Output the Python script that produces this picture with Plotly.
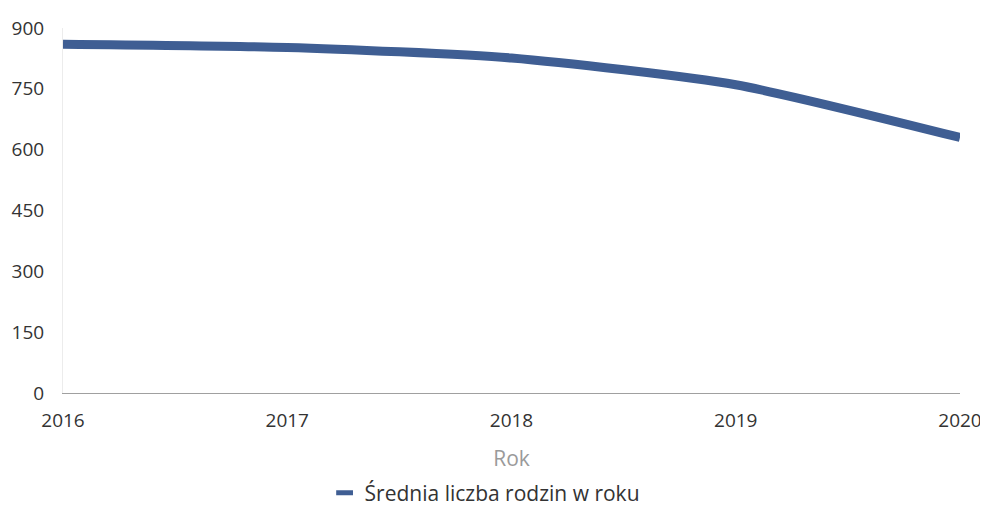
import plotly.graph_objects as go

years = [2016, 2017, 2018, 2019, 2020]
values = [860, 852, 826, 760, 630]
series_name = "Średnia liczba rodzin w roku"
y_ticks = [0, 150, 300, 450, 600, 750, 900]

line_color = "#3f5e93"

fig = go.Figure()
fig.add_trace(go.Scatter(
    x=years, y=values, mode="lines",
    line=dict(color=line_color, width=9, shape="spline", smoothing=0.6),
    showlegend=False, name=series_name,
))
fig.add_trace(go.Scatter(
    x=[None], y=[None], mode="markers",
    marker=dict(symbol="line-ew", size=12, color=line_color,
                line=dict(color=line_color, width=6)),
    name=series_name, showlegend=True,
))

fig.update_layout(
    width=980, height=510,
    margin=dict(l=55, r=28, t=20, b=125),
    paper_bgcolor="white", plot_bgcolor="white",
    font=dict(family="Open Sans", size=19, color="#333333"),
    xaxis=dict(
        range=[2016, 2020], tickvals=years, ticktext=[str(y) for y in years],
        showgrid=False, zeroline=False, showline=True, linecolor="#a0a0a0", linewidth=1,
        ticks="", ticklabelstandoff=10, automargin=False,
        title=dict(text="Rok", font=dict(color="#9a9a9a", size=21), standoff=20),
    ),
    yaxis=dict(
        range=[0, 900], tickvals=y_ticks, showgrid=False, zeroline=False,
        showline=True, linecolor="#ececec", linewidth=1, ticks="",
        ticklabelstandoff=14, automargin=False,
    ),
    legend=dict(orientation="h", x=0.47, xanchor="center",
                yref="container", y=0.049, yanchor="middle",
                font=dict(size=21, color="#333333")),
)

fig.write_html("out.html")
